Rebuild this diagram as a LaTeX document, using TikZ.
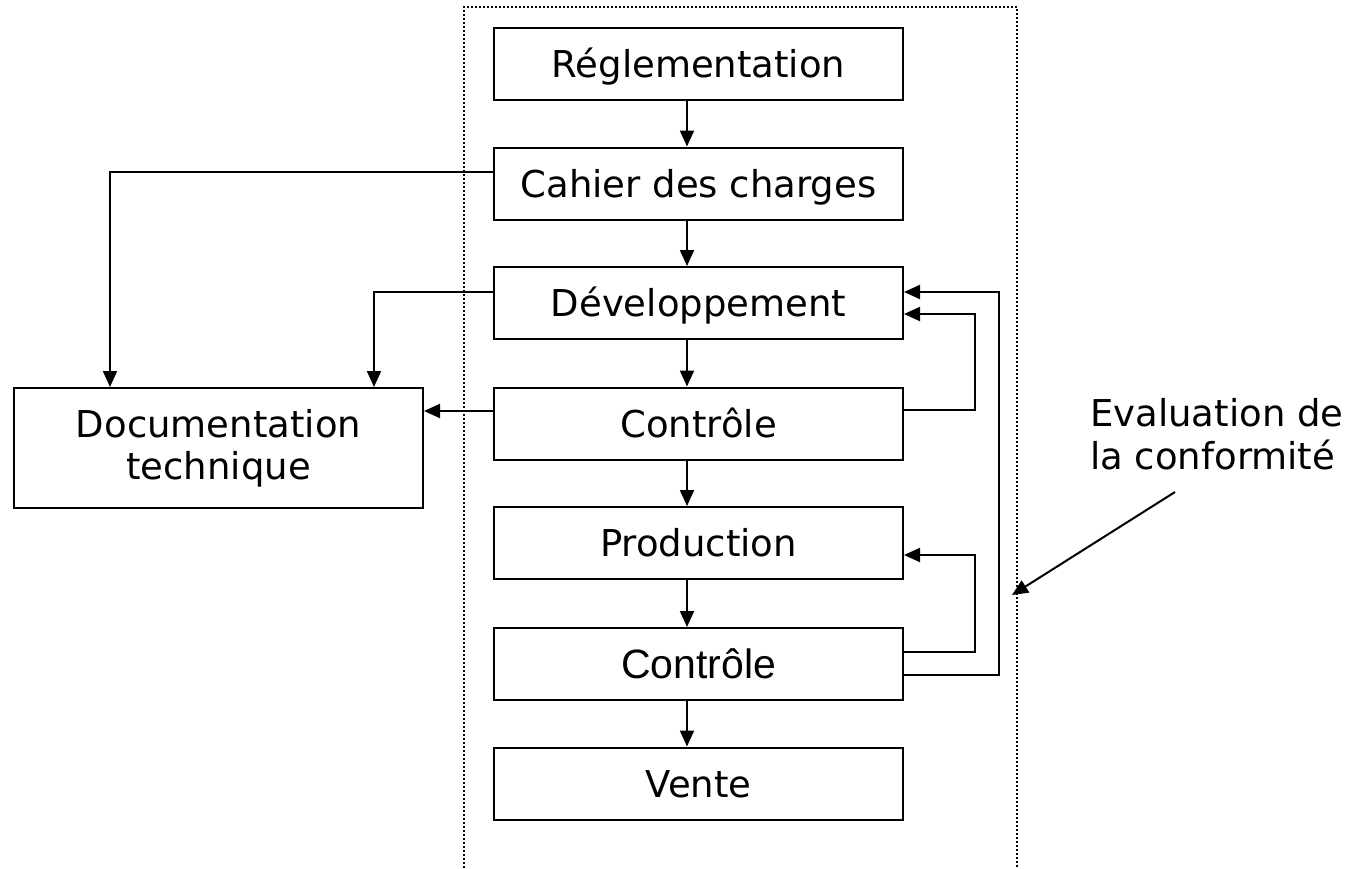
\documentclass[tikz,border=0pt]{standalone}
\usepackage{fontspec}
\setmainfont{DejaVu Sans}
\newfontfamily\arialfont{Liberation Sans}
\usetikzlibrary{arrows.meta}
\begin{document}
\begin{tikzpicture}[x=1pt,y=-1pt,
  every node/.style={font=\fontsize{37}{42}\selectfont},
  colbox/.style={draw, line width=2pt, minimum width=409pt, minimum height=72pt, inner sep=0pt,
     text height=27pt, text depth=0pt},
  conn/.style={line width=2pt, -{Triangle[length=16pt,width=14pt]}},
  frame/.style={line width=2pt, dash pattern=on 2pt off 2pt}
]
\useasboundingbox (0,0) rectangle (1349,868);
% dotted frame (bottom edge outside the picture)
\draw[frame] (464,880) -- (464,7) -- (1017,7) -- (1017,880);

\node[colbox] (reg) at (698.5,63.5) {Réglementation};
\node[colbox] (cah) at (698.5,183.5) {Cahier des charges};
\node[colbox] (dev) at (698.5,303) {Développement};
\node[colbox] (ctl) at (698.5,423.5) {Contrôle};
\node[colbox] (pro) at (698.5,543) {Production};
\node[colbox, font=\arialfont\fontsize{41}{46}\selectfont, text height=29pt] (ct2) at (698.5,664) {Contrôle};
\node[colbox] (ven) at (698.5,783.5) {Vente};

\node[draw, line width=2pt, minimum width=409pt, minimum height=120pt, inner sep=0pt, align=center] (doc) at (218.5,448) {Documentation\\technique};

\node[anchor=west, align=left, inner sep=0pt, font=\fontsize{37}{43}\selectfont] (eval) at (1090,434) {Evaluation de\\la conformité};

% vertical flow arrows
\foreach \a/\b in {reg/cah, cah/dev, dev/ctl, ctl/pro, pro/ct2, ct2/ven}
  \draw[conn] (\a.south -| 687,0) -- (\b.north -| 687,0);

% to documentation
\draw[conn] (cah.west |- 0,172) -- (110,172) -- (doc.north -| 110,0);
\draw[conn] (dev.west |- 0,292) -- (374,292) -- (doc.north -| 374,0);
\draw[conn] (ctl.west |- 0,411) -- (doc.east |- 0,411);

% feedback loops
\draw[conn] (ctl.east |- 0,410) -- (975,410) -- (975,314) -- (dev.east |- 0,314);
\draw[conn] (ct2.east |- 0,652) -- (975,652) -- (975,555) -- (pro.east |- 0,555);
\draw[conn] (ct2.east |- 0,675) -- (999,675) -- (999,292) -- (dev.east |- 0,292);

% evaluation pointer
\coordinate (evs) at (1175,492);
\coordinate (evt) at (1012,595);
\draw[conn] (evs) -- (evt);
\end{tikzpicture}
\end{document}
